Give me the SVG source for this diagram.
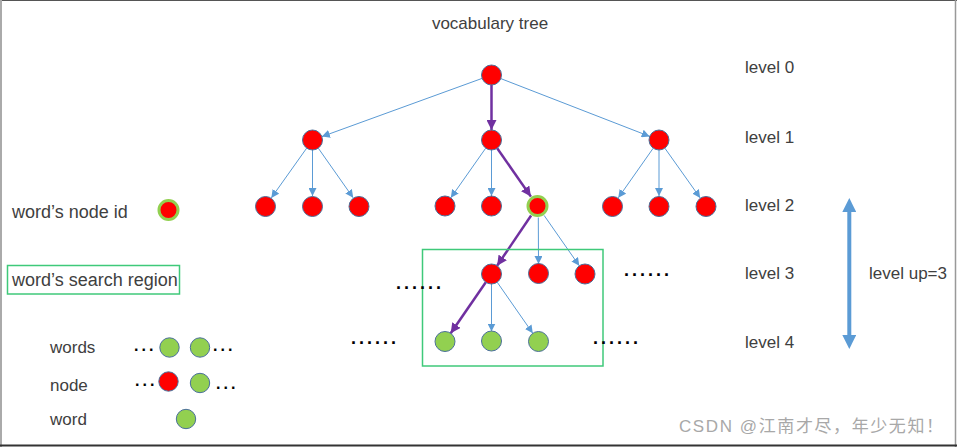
<svg xmlns="http://www.w3.org/2000/svg" width="957" height="447" viewBox="0 0 957 447">
<defs>
<style>
.t{font-family:"Liberation Sans","Noto Sans",Arial,sans-serif;font-size:17px;fill:#404040}
.t18{font-size:18px}
.r{fill:#ff0000;stroke:#4a6f9a;stroke-width:1}
.g{fill:#92d050;stroke:#4a6f9a;stroke-width:1}
.hl{fill:#ff0000;stroke:#92d050;stroke-width:3}
.b{stroke:#5b9bd5;stroke-width:1;fill:none;marker-end:url(#ab)}
.p{stroke:#7030a0;stroke-width:2.5;fill:none;marker-end:url(#ap)}
.dots{font-family:"Liberation Sans",Arial,sans-serif;font-size:18px;font-weight:bold;fill:#000;letter-spacing:3px}
.d3{font-family:"Liberation Sans",Arial,sans-serif;font-size:16px;font-weight:bold;fill:#000;letter-spacing:3px}
</style>
<marker id="ab" viewBox="0 0 8 8" refX="8" refY="4" markerWidth="8" markerHeight="8" markerUnits="userSpaceOnUse" orient="auto"><path d="M0,0 L8,4 L0,8 z" fill="#5b9bd5"/></marker>
<marker id="ap" viewBox="0 0 10 10" refX="10" refY="5" markerWidth="10" markerHeight="10" markerUnits="userSpaceOnUse" orient="auto"><path d="M0,0 L10,5 L0,10 z" fill="#7030a0"/></marker>
<marker id="bb" viewBox="0 0 14 14" refX="0" refY="7" markerWidth="14" markerHeight="14" markerUnits="userSpaceOnUse" orient="auto-start-reverse"><path d="M0,0 L14,7 L0,14 z" fill="#5b9bd5"/></marker>
</defs>
<rect x="0" y="0" width="957" height="447" fill="#ffffff"/>
<g id="frame" fill="none">
<line x1="0" y1="0.5" x2="957" y2="0.5" stroke="#555" stroke-width="1"/>
<line x1="1" y1="0" x2="1" y2="447" stroke="#aaa" stroke-width="2"/>
<line x1="955.5" y1="0" x2="955.5" y2="447" stroke="#999" stroke-width="1.5"/>
<line x1="0" y1="445.5" x2="957" y2="445.5" stroke="#333" stroke-width="2"/>
</g>
<text class="t" x="490" y="29" text-anchor="middle">vocabulary tree</text>
<g id="connectors">
<line class="b" x1="482.1" y1="78.4" x2="321.9" y2="136.6"/>
<line class="p" x1="491.5" y1="85" x2="491.5" y2="130"/>
<line class="b" x1="500.8" y1="78.6" x2="649.7" y2="136.4"/>
<line class="b" x1="306.7" y1="148.1" x2="271.3" y2="197.9"/>
<line class="b" x1="312.5" y1="150" x2="312.5" y2="196"/>
<line class="b" x1="318.3" y1="148.2" x2="353.2" y2="197.8"/>
<line class="b" x1="485.7" y1="148.2" x2="450.8" y2="197.8"/>
<line class="b" x1="491.5" y1="150" x2="491.5" y2="196"/>
<line class="p" x1="497.2" y1="148.2" x2="530.9" y2="196.6"/>
<line class="b" x1="653.2" y1="148.2" x2="618.3" y2="197.8"/>
<line class="b" x1="659" y1="150" x2="659" y2="196"/>
<line class="b" x1="664.8" y1="148.1" x2="700.2" y2="197.9"/>
<line class="p" x1="531.1" y1="215.5" x2="497.1" y2="265.7"/>
<line class="b" x1="538.3" y1="217.5" x2="538.5" y2="264"/>
<line class="b" x1="544.1" y1="215.4" x2="579.3" y2="265.8"/>
<line class="p" x1="485.8" y1="282.2" x2="450.7" y2="333.3"/>
<line class="b" x1="491.5" y1="284" x2="491.5" y2="331.5"/>
<line class="b" x1="497.2" y1="282.2" x2="532.8" y2="333.3"/>
</g>
<g id="n0"><circle class="r" cx="491.5" cy="75" r="10"/></g>
<g id="n1a"><circle class="r" cx="312.5" cy="140" r="10"/></g>
<g id="n1b"><circle class="r" cx="491.5" cy="140" r="10"/></g>
<g id="n1c"><circle class="r" cx="659" cy="140" r="10"/></g>
<g id="n2a"><circle class="r" cx="265.5" cy="206.5" r="10"/></g>
<g id="n2b"><circle class="r" cx="312.5" cy="206.5" r="10"/></g>
<g id="n2c"><circle class="r" cx="359" cy="206.5" r="10"/></g>
<g id="n2d"><circle class="r" cx="445" cy="206" r="10"/></g>
<g id="n2e"><circle class="r" cx="491.5" cy="206" r="10"/></g>
<g id="n2f"><circle class="hl" cx="537.5" cy="206" r="9.5"/></g>
<g id="n2g"><circle class="r" cx="612.5" cy="206.5" r="10"/></g>
<g id="n2h"><circle class="r" cx="659" cy="206.5" r="10"/></g>
<g id="n2i"><circle class="r" cx="706" cy="206.5" r="10"/></g>
<g id="n3a"><circle class="r" cx="491.5" cy="274" r="10"/></g>
<g id="n3b"><circle class="r" cx="538.5" cy="273.5" r="10"/></g>
<g id="n3c"><circle class="r" cx="585" cy="274" r="10"/></g>
<g id="n4a"><circle class="g" cx="445" cy="341.5" r="10"/></g>
<g id="n4b"><circle class="g" cx="491.5" cy="341" r="10"/></g>
<g id="n4c"><circle class="g" cx="538.5" cy="341.5" r="10"/></g>
<g id="region"><rect x="422.5" y="249.5" width="180.5" height="116.5" fill="none" stroke="#3fc97a" stroke-width="1.5"/></g>
<g id="ellipses">
<text class="dots" x="396" y="289">......</text>
<text class="dots" x="624" y="276">......</text>
<text class="dots" x="351" y="344">......</text>
<text class="dots" x="593" y="344">......</text>
</g>
<g id="levels">
<text class="t" x="745" y="73">level 0</text>
<text class="t" x="745" y="143">level 1</text>
<text class="t" x="745" y="211">level 2</text>
<text class="t" x="745" y="279">level 3</text>
<text class="t" x="745" y="348">level 4</text>
</g>
<g id="levelup">
<line x1="849.3" y1="212" x2="849.3" y2="335" stroke="#5b9bd5" stroke-width="4" marker-start="url(#bb)" marker-end="url(#bb)"/>
<text class="t" x="869" y="279">level up=3</text>
</g>
<g id="legend-nodeid">
<text class="t t18" x="12" y="218">word’s node id</text>
<circle class="hl" cx="168.5" cy="210" r="9.5"/>
</g>
<g id="legend-region">
<rect x="7.5" y="265.5" width="172" height="28.5" fill="none" stroke="#3fc97a" stroke-width="1.5"/>
<text class="t t18" x="12" y="286">word’s search region</text>
</g>
<g id="legend-words">
<text class="t" x="50" y="353">words</text>
<text class="d3" x="134" y="351">...</text>
<circle class="g" cx="169.5" cy="347.5" r="9.7"/>
<circle class="g" cx="200" cy="347.5" r="9.7"/>
<text class="d3" x="213" y="351">...</text>
</g>
<g id="legend-node">
<text class="t" x="50" y="391">node</text>
<text class="d3" x="135" y="386">...</text>
<circle class="r" cx="168.5" cy="381.5" r="9.7"/>
<circle class="g" cx="200" cy="383" r="9.7"/>
<text class="d3" x="216" y="389">...</text>
</g>
<g id="legend-word">
<text class="t" x="50" y="425">word</text>
<circle class="g" cx="186" cy="419" r="9.7"/>
</g>
<text x="679" y="432" textLength="264" lengthAdjust="spacing" style="font-family:'Liberation Sans','Noto Sans CJK SC',sans-serif;font-size:17px;fill:#a8a8a8">CSDN @江南才尽，年少无知！</text>
</svg>
